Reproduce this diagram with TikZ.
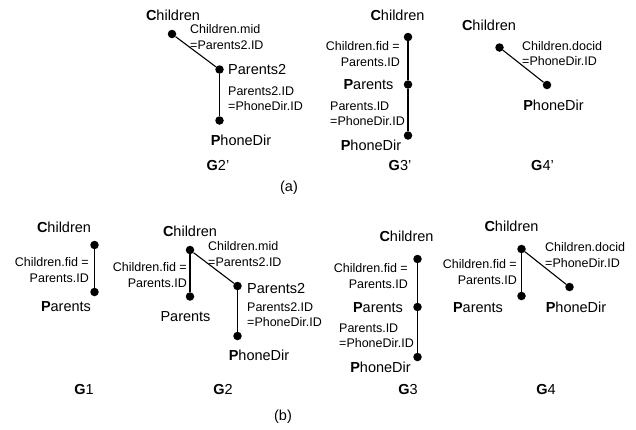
\documentclass[tikz,border=0pt]{standalone}
\usepackage{fontspec}
\setmainfont{Liberation Sans}
\usepackage{tikz}

\begin{document}
\begin{tikzpicture}[x=1pt, y=-1pt,
        vdot/.style = {circle, fill = black, inner sep = 0pt, minimum size = 8.5pt},
        tabname/.style = {font = {\fontsize{14.5}{17}\selectfont}, inner sep = 0pt, black},
        condlabel/.style = {font = {\fontsize{12.5}{15.5}\selectfont}, inner sep = 0pt, black},
        link/.style = {line width = 1.1pt}]
        \useasboundingbox (0, 0) rectangle (636, 429);
        % (a) G2'
        \node[vdot] (c2t) at (172, 34) {};
        \node[vdot] (p2t) at (219.5, 69.5) {};
        \node[vdot] (d2t) at (219.5, 120.5) {};
        \draw[link] (c2t) -- (p2t);
        \draw[link] (p2t) -- (d2t);
        \node[tabname] (c2tn) at (173, 15) {\textbf{C}hildren};
        \node[condlabel, anchor = west, align = left] (c2tl) at (190, 37) {Children.mid\\=Parents2.ID};
        \node[tabname, anchor = west] (p2tn) at (228, 70) {Parents2};
        \node[condlabel, anchor = west, align = left] (p2tl) at (228, 98.5) {Parents2.ID\\=PhoneDir.ID};
        \node[tabname] (d2tn) at (241, 140) {\textbf{P}honeDir};
        \node[tabname] (g2t) at (218, 166) {\textbf{G}2\char"27};
        % (a) G3'
        \node[vdot] (c3t) at (408, 37) {};
        \node[vdot] (p3t) at (408, 84.5) {};
        \node[vdot] (d3t) at (408, 135.5) {};
        \draw[link] (c3t) -- (p3t);
        \draw[link] (p3t) -- (d3t);
        \node[tabname] (c3tn) at (397.5, 15) {\textbf{C}hildren};
        \node[condlabel, anchor = east, align = right] (c3tl) at (400, 54) {Children.fid =\\Parents.ID};
        \node[tabname] (p3tn) at (368.5, 85) {\textbf{P}arents};
        \node[condlabel, anchor = west, align = left] (p3tl) at (330, 114) {Parents.ID\\=PhoneDir.ID};
        \node[tabname] (d3tn) at (371, 145) {\textbf{P}honeDir};
        \node[tabname] (g3t) at (400, 166) {\textbf{G}3\char"27};
        % (a) G4'
        \node[vdot] (c4t) at (499.5, 47.5) {};
        \node[vdot] (d4t) at (547, 85) {};
        \draw[link] (c4t) -- (d4t);
        \node[tabname] (c4tn) at (489, 25) {\textbf{C}hildren};
        \node[condlabel, anchor = west, align = left] (c4tl) at (522, 53.5) {Children.docid\\=PhoneDir.ID};
        \node[tabname] (d4tn) at (553.5, 105) {\textbf{P}honeDir};
        \node[tabname] (g4t) at (542.5, 166) {\textbf{G}4\char"27};
        \node[tabname] (capa) at (289, 188) {(a)};
        % (b) G1
        \node[vdot] (c1) at (94.5, 245) {};
        \node[vdot] (p1) at (94.5, 292) {};
        \draw[link] (c1) -- (p1);
        \node[tabname] (c1n) at (64, 227) {\textbf{C}hildren};
        \node[condlabel, anchor = east, align = right] (c1l) at (89, 270) {Children.fid =\\Parents.ID};
        \node[tabname] (p1n) at (66, 307) {\textbf{P}arents};
        \node[tabname] (g1) at (84, 389) {\textbf{G}1};
        % (b) G2
        \node[vdot] (c2) at (190, 250) {};
        \node[vdot] (p2) at (190, 296.5) {};
        \node[vdot] (q2) at (237.5, 286) {};
        \node[vdot] (d2) at (237.5, 336) {};
        \draw[link] (c2) -- (p2);
        \draw[link] (c2) -- (q2);
        \draw[link] (q2) -- (d2);
        \node[tabname] (c2n) at (190, 231) {\textbf{C}hildren};
        \node[condlabel, anchor = east, align = right] (c2l) at (187, 275) {Children.fid =\\Parents.ID};
        \node[tabname] (p2n) at (185.5, 317) {Parents};
        \node[condlabel, anchor = west, align = left] (q2l) at (208, 254) {Children.mid\\=Parents2.ID};
        \node[tabname, anchor = west] (q2n) at (247, 288) {Parents2};
        \node[condlabel, anchor = west, align = left] (d2l) at (247, 314.5) {Parents2.ID\\=PhoneDir.ID};
        \node[tabname] (d2n) at (259, 355) {\textbf{P}honeDir};
        \node[tabname] (g2) at (223, 389) {\textbf{G}2};
        % (b) G3
        \node[vdot] (c3) at (417.5, 259) {};
        \node[vdot] (p3) at (417.5, 307) {};
        \node[vdot] (d3) at (417.5, 357) {};
        \draw[link] (c3) -- (p3);
        \draw[link] (p3) -- (d3);
        \node[tabname] (c3n) at (406.5, 236) {\textbf{C}hildren};
        \node[condlabel, anchor = east, align = right] (c3l) at (408, 276) {Children.fid =\\Parents.ID};
        \node[tabname] (p3n) at (378, 307.5) {\textbf{P}arents};
        \node[condlabel, anchor = west, align = left] (d3l) at (339, 336) {Parents.ID\\=PhoneDir.ID};
        \node[tabname] (d3n) at (380.5, 367) {\textbf{P}honeDir};
        \node[tabname] (g3) at (408, 389) {\textbf{G}3};
        % (b) G4
        \node[vdot] (c4) at (521.5, 249) {};
        \node[vdot] (p4) at (521.5, 296) {};
        \node[vdot] (d4) at (569.5, 287) {};
        \draw[link] (c4) -- (p4);
        \draw[link] (c4) -- (d4);
        \node[tabname] (c4n) at (511.5, 226) {\textbf{C}hildren};
        \node[condlabel, anchor = east, align = right] (c4l) at (517, 272) {Children.fid =\\Parents.ID};
        \node[tabname] (p4n) at (478, 307.5) {\textbf{P}arents};
        \node[condlabel, anchor = west, align = left] (d4l) at (545, 255) {Children.docid\\=PhoneDir.ID};
        \node[tabname] (d4n) at (576, 307.5) {\textbf{P}honeDir};
        \node[tabname] (g4) at (546, 389) {\textbf{G}4};
        \node[tabname] (capb) at (283, 417) {(b)};
    \end{tikzpicture}
\end{document}
